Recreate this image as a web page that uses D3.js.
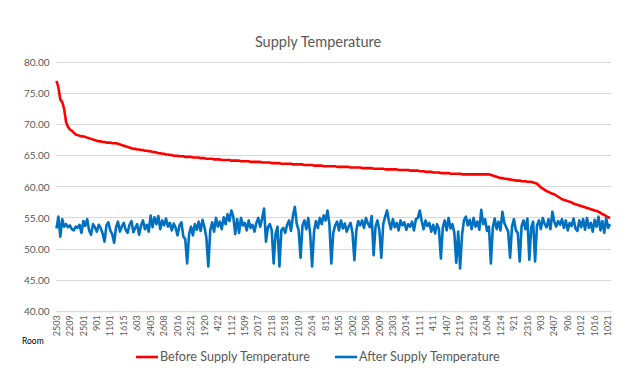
<!DOCTYPE html>
<html><head><meta charset="utf-8">
<script src="https://cdn.jsdelivr.net/npm/d3@7"></script>
<style>body{margin:0;background:#fff}svg{display:block}</style>
</head><body>
<svg id="c" width="644" height="380"></svg>
<script>
const tickLabels = ["2503","2209","2501","901","1101","1615","603","2405","2608","2016","2521","1920","422","1112","1509","2017","2118","2518","2109","2614","815","1505","2002","1508","2009","2303","2014","1111","411","1407","2119","2218","1604","1214","921","2316","903","2407","906","1012","1016","1021"];
const labelEvery = 7;
const before = [
77.0,76.0,74.0,73.6,72.5,70.4,69.6,69.2,69.0,68.7,
68.4,68.3,68.2,68.1,68.1,68.0,67.9,67.8,67.7,67.6,
67.5,67.4,67.3,67.3,67.2,67.2,67.1,67.1,67.1,67.0,
67.0,67.0,66.9,66.8,66.7,66.6,66.5,66.4,66.3,66.2,
66.1,66.1,66.0,66.0,65.9,65.9,65.8,65.8,65.7,65.7,
65.6,65.6,65.5,65.4,65.4,65.3,65.3,65.2,65.2,65.1,
65.1,65.0,65.0,65.0,64.9,64.9,64.9,64.8,64.8,64.8,
64.8,64.7,64.7,64.7,64.7,64.6,64.6,64.6,64.5,64.5,
64.5,64.5,64.4,64.4,64.4,64.4,64.3,64.3,64.3,64.3,
64.3,64.2,64.2,64.2,64.2,64.2,64.1,64.1,64.1,64.1,
64.1,64.0,64.0,64.0,64.0,64.0,64.0,63.9,63.9,63.9,
63.9,63.9,63.8,63.8,63.8,63.8,63.8,63.7,63.7,63.7,
63.7,63.7,63.7,63.6,63.6,63.6,63.6,63.6,63.6,63.5,
63.5,63.5,63.5,63.5,63.4,63.4,63.4,63.4,63.4,63.3,
63.3,63.3,63.3,63.3,63.3,63.3,63.2,63.2,63.2,63.2,
63.2,63.2,63.2,63.1,63.1,63.1,63.1,63.1,63.1,63.0,
63.0,63.0,63.0,63.0,63.0,62.9,62.9,62.9,62.9,62.9,
62.9,62.8,62.8,62.8,62.8,62.8,62.8,62.8,62.7,62.7,
62.7,62.7,62.7,62.7,62.6,62.6,62.6,62.6,62.6,62.5,
62.5,62.5,62.4,62.4,62.4,62.4,62.3,62.3,62.3,62.3,
62.2,62.2,62.2,62.2,62.2,62.1,62.1,62.1,62.1,62.1,
62.1,62.0,62.0,62.0,62.0,62.0,62.0,62.0,62.0,62.0,
62.0,62.0,62.0,62.0,62.0,62.0,61.9,61.8,61.7,61.6,
61.5,61.4,61.4,61.3,61.3,61.2,61.2,61.1,61.1,61.0,
61.0,61.0,60.9,60.9,60.9,60.8,60.8,60.8,60.7,60.6,
60.5,60.2,59.9,59.7,59.5,59.3,59.2,59.0,58.9,58.8,
58.6,58.4,58.2,58.0,57.9,57.8,57.7,57.6,57.5,57.3,
57.2,57.1,57.0,56.9,56.8,56.7,56.6,56.5,56.4,56.3,
56.2,56.1,56.0,55.8,55.6,55.5,55.3,55.1,55.0
];
const after = [
53.3,55.2,52.0,54.8,53.6,54.0,53.5,53.8,53.2,53.0,
53.6,53.4,53.9,52.6,54.5,53.7,54.8,53.0,52.3,54.0,
53.5,52.8,53.9,53.4,52.5,51.2,53.8,54.3,53.0,52.4,
51.0,53.5,54.4,52.8,53.6,54.2,53.1,52.6,53.9,54.5,
52.7,53.4,54.0,52.3,53.8,54.6,53.2,53.9,52.8,55.4,
53.5,55.1,54.0,55.3,53.2,54.6,53.8,54.9,53.6,54.2,
53.0,54.1,53.4,52.2,53.8,54.3,52.0,51.6,47.7,52.4,
53.6,52.2,54.0,53.1,54.4,52.9,54.7,53.5,51.8,47.2,
53.0,54.3,52.8,55.0,53.6,54.4,53.2,55.1,54.0,55.6,
54.5,56.2,55.2,52.4,54.8,52.6,55.0,53.8,54.2,53.0,
54.6,53.4,53.9,52.8,54.2,55.0,53.6,54.9,56.5,51.2,
53.5,54.0,53.0,47.7,52.5,53.6,47.2,53.0,53.4,52.6,
53.9,54.6,52.9,55.3,56.8,54.1,53.0,48.6,53.8,54.6,
53.2,55.0,52.4,47.2,52.8,54.5,53.4,55.0,54.0,55.4,
54.6,56.2,54.0,47.7,52.6,53.8,54.4,53.0,54.6,53.3,
54.1,52.8,53.6,54.2,52.6,48.2,53.0,54.5,53.8,54.6,
53.4,55.0,54.1,53.5,55.3,49.0,53.6,54.6,53.0,48.6,
54.0,55.2,56.2,54.4,53.2,54.8,53.5,54.2,53.0,54.6,
53.8,54.3,53.1,54.0,53.6,54.4,53.0,54.8,55.0,56.2,
54.5,53.2,54.6,53.7,54.2,52.8,53.9,52.5,54.0,53.2,
48.5,53.5,54.6,53.0,55.0,53.3,54.0,52.6,47.8,52.8,
46.9,52.3,54.6,55.2,53.8,54.7,53.2,55.0,53.6,54.4,
53.1,56.3,54.0,54.8,52.9,53.6,47.7,53.4,54.9,53.2,
54.4,53.0,56.0,54.2,53.5,52.8,48.6,53.6,54.8,53.0,
52.6,48.0,53.7,54.6,53.2,54.9,48.3,53.5,54.4,48.0,
53.8,54.6,53.2,55.0,54.0,53.5,54.8,53.2,56.0,54.4,
53.6,54.5,53.9,54.8,53.4,54.6,53.0,54.2,53.7,54.9,
53.3,52.9,54.6,53.5,54.8,53.1,55.0,53.4,54.2,52.8,
54.7,53.6,55.2,53.0,54.5,52.6,55.0,53.4,54.0,52.0
];
const yTicks = [40,45,50,55,60,65,70,75,80];
const seriesNames = ["Before Supply Temperature","After Supply Temperature"];
const colors = ["#ff0000","#0070c0"];

const svg = d3.select("#c");
const font = "Lato, 'Open Sans', sans-serif";
const L = 55.5, R = 611, T = 62.3, B = 311.3;
const n = before.length;
const x = d3.scaleBand().domain(d3.range(n)).range([L, R]);
const y = d3.scaleLinear().domain([40, 80]).range([B, T]);
const cx = i => x(i) + x.bandwidth() / 2;

// gridlines
svg.append("g").selectAll("line").data(yTicks).join("line")
  .attr("x1", L).attr("x2", R).attr("y1", d => y(d)).attr("y2", d => y(d))
  .attr("stroke", "#d9d9d9").attr("stroke-width", 1).attr("shape-rendering", "crispEdges");

// y axis
const ya = svg.append("g").attr("transform", `translate(${L},0)`)
  .call(d3.axisLeft(y).tickValues(yTicks).tickFormat(d3.format(".2f")).tickSize(0).tickPadding(6));
ya.select(".domain").remove();
ya.selectAll("text").attr("font-family", font).attr("font-size", 10).attr("fill", "#595959");

// x axis
const tickIdx = tickLabels.map((_, k) => k * labelEvery);
const xa = svg.append("g").attr("transform", `translate(0,${B})`)
  .call(d3.axisBottom(x).tickValues(tickIdx).tickFormat(i => tickLabels[i / labelEvery]).tickSize(0));
xa.select(".domain").attr("stroke", "#d9d9d9");
xa.selectAll("text").attr("font-family", font).attr("font-size", 9).attr("fill", "#595959")
  .attr("transform", "rotate(-90)").attr("text-anchor", "end").attr("dy", "0.35em").attr("x", -4).attr("y", 0);

// lines
const line = d3.line().x((d, i) => cx(i)).y(d => y(d));
[before, after].forEach((s, k) => {
  svg.append("path").datum(s).attr("d", line).attr("fill", "none")
    .attr("stroke", colors[k]).attr("stroke-width", 2.6).attr("stroke-linejoin", "round");
});

// title
svg.append("text").attr("x", 318).attr("y", 47).attr("text-anchor", "middle")
  .attr("font-family", font).attr("font-size", 14.5).attr("fill", "#595959").text("Supply Temperature");

// axis title
svg.append("text").attr("x", 22).attr("y", 344).attr("font-family", font).attr("font-size", 8.5)
  .attr("fill", "#000").text("Room");

// legend
const lg = [{x: 136, tx: 160}, {x: 335, tx: 359}];
seriesNames.forEach((nm, k) => {
  svg.append("line").attr("x1", lg[k].x).attr("x2", lg[k].x + 22).attr("y1", 357).attr("y2", 357)
    .attr("stroke", colors[k]).attr("stroke-width", 2.6);
  svg.append("text").attr("x", lg[k].tx).attr("y", 361).attr("font-family", font).attr("font-size", 12.6)
    .attr("fill", "#595959").text(nm);
});
</script>
</body></html>
